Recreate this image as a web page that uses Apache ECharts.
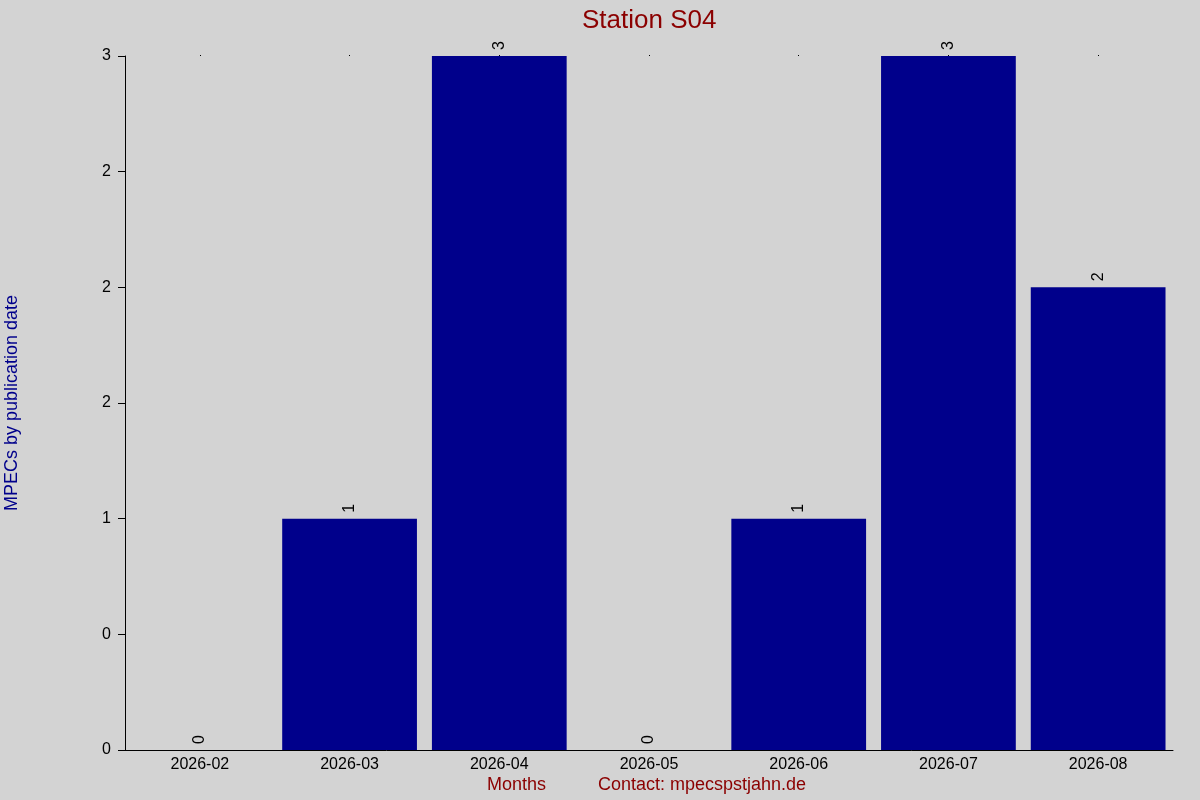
<!DOCTYPE html>
<html>
<head>
<meta charset="utf-8">
<script src="https://cdn.jsdelivr.net/npm/echarts@6/dist/echarts.min.js"></script>
<style>
html,body{margin:0;padding:0;background:#d3d3d3;}
#chart{width:1200px;height:800px;}
</style>
</head>
<body>
<div id="chart"></div>
<script>
var months = ['2026-02','2026-03','2026-04','2026-05','2026-06','2026-07','2026-08'];
var counts = [0, 1, 3, 0, 1, 3, 2];

// tick labels are rounded half to even (0.5 -> 0, 1.5 -> 2, 2.5 -> 2)
function roundEven(v){
	var f = Math.floor(v);
	var d = v - f;
	if (Math.abs(d - 0.5) < 1e-9) return (f % 2 === 0) ? f : f + 1;
	return Math.round(v);
}

var chart = echarts.init(document.getElementById('chart'));
chart.setOption({
	backgroundColor:'#d3d3d3',
	animation:false,
	textStyle:{fontFamily:'Liberation Sans, Arial, sans-serif'},
	title:{
		text:'Station S04',
		left:577,
		top:3,
		textStyle:{color:'#8b0000',fontSize:26,fontWeight:'normal'}
	},
	grid:{left:125,right:27,top:56,bottom:50,containLabel:false,outerBoundsMode:'none'},
	xAxis:[{
		type:'category',
		data:months,
		axisLine:{lineStyle:{color:'#000',width:1}},
		axisTick:{show:false},
		axisLabel:{color:'#000',fontSize:16,margin:7},
		splitLine:{show:false}
	},{
		type:'category',
		data:months,
		position:'top',
		axisLine:{show:false},
		axisTick:{show:true,alignWithLabel:true,length:1,lineStyle:{color:'#000'}},
		axisLabel:{show:false}
	}],
	yAxis:{
		type:'value',
		min:0,
		max:3,
		interval:0.5,
		name:'MPECs by publication date',
		nameLocation:'middle',
		nameGap:104,
		nameTextStyle:{color:'#00008b',fontSize:18},
		axisLine:{show:true,lineStyle:{color:'#000',width:1}},
		axisTick:{show:true,length:7,lineStyle:{color:'#000'}},
		axisLabel:{color:'#000',fontSize:16,margin:14,formatter:function(v){return String(roundEven(v));}},
		splitLine:{show:false}
	},
	series:[{
		type:'bar',
		data:counts,
		barCategoryGap:'10%',
		itemStyle:{color:'#00008b'},
		label:{
			show:true,
			position:'top',
			rotate:90,
			align:'left',
			verticalAlign:'middle',
			distance:6,
			color:'#000',
			fontSize:16
		}
	}],
	graphic:[{
		type:'text',
		left:487,
		top:776,
		style:{text:'Months',fill:'#8b0000',fontSize:18,fontFamily:'Liberation Sans, Arial, sans-serif'}
	},{
		type:'text',
		left:598,
		top:776,
		style:{text:'Contact: mpecspstjahn.de',fill:'#8b0000',fontSize:18,fontFamily:'Liberation Sans, Arial, sans-serif'}
	}]
});
</script>
</body>
</html>
